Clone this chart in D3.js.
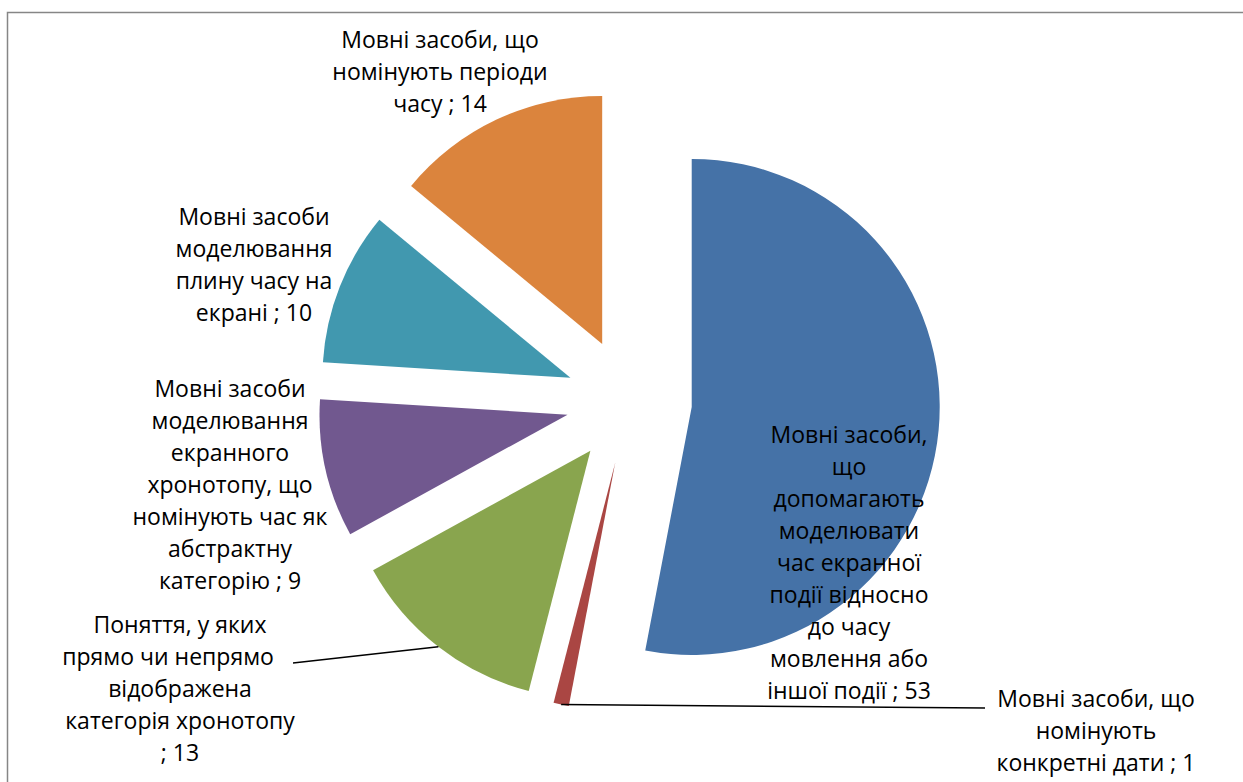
<!DOCTYPE html>
<html>
<head>
<meta charset="utf-8">
<script src="https://cdn.jsdelivr.net/npm/d3@7"></script>
<style>
  html, body { margin: 0; padding: 0; background: #fff; }
  svg { display: block; }
  text { font-family: "Open Sans", sans-serif; fill: #000; }
</style>
</head>
<body>
<svg id="chart" width="1243" height="782"></svg>
<script>
// Categories in drawing order, clockwise from 12 o'clock
const categories = [
  "Мовні засоби, що допомагають моделювати час екранної події відносно до часу мовлення або іншої події",
  "Мовні засоби, що номінують конкретні дати",
  "Поняття, у яких прямо чи непрямо відображена категорія хронотопу",
  "Мовні засоби моделювання екранного хронотопу, що номінують час як абстрактну категорію",
  "Мовні засоби моделювання плину часу на екрані",
  "Мовні засоби, що номінують періоди часу"
];
const values = [53, 1, 13, 9, 10, 14];

// Data label text, wrapped line by line
const labelLines = [
  ["Мовні засоби,", "що", "допомагають", "моделювати", "час екранної", "події відносно", "до часу", "мовлення або", "іншої події ; 53"],
  ["Мовні засоби, що", "номінують", "конкретні дати ; 1"],
  ["Поняття, у яких", "прямо чи непрямо\u00a0\u00a0\u00a0\u00a0", "відображена", "категорія хронотопу", "; 13"],
  ["Мовні засоби", "моделювання", "екранного", "хронотопу, що", "номінують час як", "абстрактну", "категорію ; 9"],
  ["Мовні засоби", "моделювання", "плину часу на", "екрані ; 10"],
  ["Мовні засоби, що", "номінують періоди", "часу ; 14"]
];

const colors = ["#4572A7", "#AA4643", "#89A54E", "#71588F", "#4198AF", "#DB843D"];

// ---- layout ----
const W = 1243, H = 782;
const cx = 629, cy = 401;
const R = 248;
const explode = 0.254 * R;
const fontSize = 23;
const lineH = 32;

// label block anchors (centre x, first baseline y) relative to the pie centre
const labelOffset = [
  [220, 42], [467, 306], [-449, 232], [-399, -4], [-375, -176], [-189, -353]
];
// leader line end points (relative to pie centre) for labels set away from their slice
const leaderEnd = { 1: [356, 307], 2: [-336, 262] };

const svg = d3.select("#chart");

// chart frame
svg.append("rect")
  .attr("x", 7.5).attr("y", 12.5)
  .attr("width", W).attr("height", H)
  .attr("fill", "none")
  .attr("stroke", "#868686")
  .attr("stroke-width", 1.5);

const pie = d3.pie().sort(null).value(d => d)(values);
const arc = d3.arc().innerRadius(0).outerRadius(R);

const g = svg.append("g").attr("transform", `translate(${cx},${cy})`);

function shift(a) {
  const mid = (a.startAngle + a.endAngle) / 2;
  return [explode * Math.sin(mid), -explode * Math.cos(mid)];
}

g.selectAll("path.slice")
  .data(pie)
  .join("path")
  .attr("class", "slice")
  .attr("transform", d => { const s = shift(d); return `translate(${s[0]},${s[1]})`; })
  .attr("d", arc)
  .attr("fill", (d, i) => colors[i]);

// leader lines from the outer edge of the slice to its label
pie.forEach((d, i) => {
  if (!leaderEnd[i]) return;
  const s = shift(d);
  const mid = (d.startAngle + d.endAngle) / 2;
  const x0 = s[0] + R * Math.sin(mid), y0 = s[1] - R * Math.cos(mid);
  g.append("line")
    .attr("x1", x0).attr("y1", y0)
    .attr("x2", leaderEnd[i][0]).attr("y2", leaderEnd[i][1])
    .attr("stroke", "#000")
    .attr("stroke-width", 1.5);
});

// data labels
pie.forEach((d, i) => {
  const t = g.append("text")
    .attr("text-anchor", "middle")
    .attr("font-size", fontSize);
  labelLines[i].forEach((ln, k) => {
    t.append("tspan")
      .attr("x", labelOffset[i][0])
      .attr("y", labelOffset[i][1] + k * lineH)
      .text(ln);
  });
});
</script>
</body>
</html>
